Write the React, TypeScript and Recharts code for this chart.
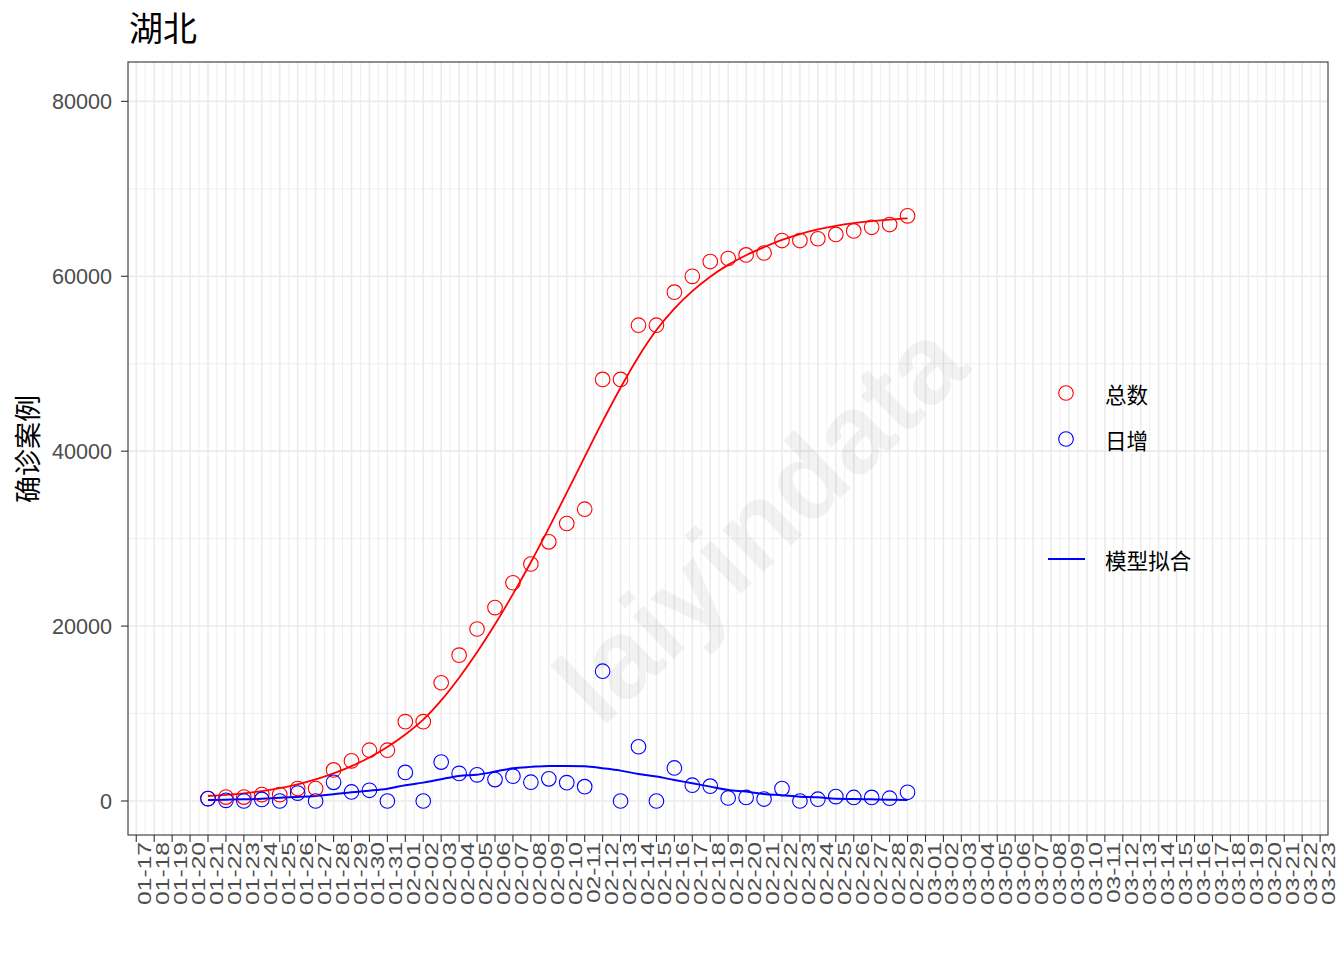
import React from 'react';
import {
  CartesianGrid,
  ComposedChart,
  Line,
  Scatter,
  XAxis,
  YAxis,
} from 'recharts';

const dayLabels = [
  '01-17', '01-18', '01-19', '01-20', '01-21', '01-22', '01-23', '01-24', '01-25',
  '01-26', '01-27', '01-28', '01-29', '01-30', '01-31', '02-01', '02-02', '02-03',
  '02-04', '02-05', '02-06', '02-07', '02-08', '02-09', '02-10', '02-11', '02-12',
  '02-13', '02-14', '02-15', '02-16', '02-17', '02-18', '02-19', '02-20', '02-21',
  '02-22', '02-23', '02-24', '02-25', '02-26', '02-27', '02-28', '02-29', '03-01',
  '03-02', '03-03', '03-04', '03-05', '03-06', '03-07', '03-08', '03-09', '03-10',
  '03-11', '03-12', '03-13', '03-14', '03-15', '03-16', '03-17', '03-18', '03-19',
  '03-20', '03-21', '03-22', '03-23',
];

const firstDay = '01-21';

// 总数 (cumulative confirmed)
const total = [
  270, 444, 444, 729, 729, 1423, 1423, 3554, 4586, 5806, 5806, 9074, 9074, 13522,
  16678, 19665, 22112, 24953, 27100, 29631, 31728, 33366, 48206, 48206, 54406,
  54406, 58182, 59989, 61682, 62031, 62442, 62662, 64084, 64084, 64287, 64786,
  65187, 65596, 65914, 66907,
];

// 日增 (daily new)
const daily = [
  270, 70, 0, 180, 0, 900, 0, 2131, 1032, 1220, 0, 3268, 0, 4448, 3156, 2987, 2447,
  2841, 2147, 2531, 2097, 1638, 14840, 0, 6200, 0, 3776, 1807, 1693, 349, 411, 220,
  1422, 0, 203, 499, 401, 409, 318, 993,
];

// 模型拟合 (fitted curves)
const fitTotal = [
  570, 700, 880, 1130, 1460, 1900, 2460, 3150, 3980, 4980, 6170, 7600, 9300, 11500,
  14100, 17000, 20200, 23650, 27300, 31200, 35250, 39350, 43400, 47250, 50800, 53850,
  56300, 58300, 59950, 61300, 62400, 63330, 64150, 64820, 65350, 65760, 66070, 66300,
  66480, 66620,
];

const fitDaily = [
  115, 150, 190, 265, 380, 460, 570, 760, 1000, 1180, 1410, 1800, 2100, 2490, 2865,
  3000, 3360, 3740, 3900, 4010, 4010, 3970, 3740, 3470, 3090, 2790, 2400, 2030, 1640,
  1260, 1070, 800, 650, 490, 420, 260, 230, 190, 150, 115,
];

const yTicks = [0, 20000, 40000, 60000, 80000];
const yMinor = [10000, 30000, 50000, 70000];

const start = dayLabels.indexOf(firstDay);
const rows = total.map((t, i) => ({
  x: start + i,
  total: t,
  daily: daily[i],
  fitTotal: fitTotal[i],
  fitDaily: fitDaily[i],
}));

const xTicks = dayLabels.map((_, i) => i);
const xMinor = dayLabels.slice(1).map((_, i) => i + 0.5);

const NUM_FONT = '"Liberation Sans", Arial, sans-serif';
const CJK_FONT = '"Noto Sans CJK SC", sans-serif';

// rotated date labels, a bit stretched along the text like the original device output
const XTick = ({ x, y, payload }: any) => (
  <text
    x={0}
    y={0}
    dy={17.5}
    transform={`translate(${x}, ${y}) rotate(-90) scale(1.14, 0.86)`}
    textAnchor="end"
    fill="#4d4d4d"
    fontSize={21.6}
    fontFamily={NUM_FONT}
  >
    {dayLabels[payload.value]}
  </text>
);

const ring = (color: string) => (props: any) => (
  <circle cx={props.cx} cy={props.cy} r={7.3} fill="none" stroke={color} strokeWidth={1.1} />
);

function App() {
  return (
    <div style={{ position: 'absolute', left: 0, top: 0, background: '#fff' }}>
      <ComposedChart
        width={1344}
        height={960}
        data={rows}
        margin={{ top: 62, right: 16, bottom: 0, left: 0 }}
      >
        <CartesianGrid
          stroke="#ebebeb"
          strokeWidth={0.8}
          horizontalValues={yMinor}
          verticalValues={xMinor}
        />
        <CartesianGrid
          stroke="#ebebeb"
          strokeWidth={1.6}
          horizontalValues={yTicks}
          verticalValues={xTicks}
        />
        <text
          x={760}
          y={522}
          transform="rotate(-44, 760, 522)"
          textAnchor="middle"
          dominantBaseline="central"
          fontFamily={NUM_FONT}
          fontWeight="bold"
          fontSize={112}
          fill="rgba(0,0,0,0.05)"
        >
          laiyindata
        </text>
        <XAxis
          dataKey="x"
          type="number"
          domain={[-0.46, 66.44]}
          allowDataOverflow
          ticks={xTicks}
          interval={0}
          height={125}
          tickSize={7}
          tickMargin={0}
          axisLine={false}
          tickLine={{ stroke: '#333', strokeWidth: 1.1 }}
          tick={<XTick />}
        />
        <YAxis
          type="number"
          domain={[-3890, 84500]}
          allowDataOverflow
          ticks={yTicks}
          width={128}
          tickSize={7}
          tickMargin={9}
          axisLine={false}
          tickLine={{ stroke: '#333', strokeWidth: 1.1 }}
          tick={{ fill: '#4d4d4d', fontSize: 21.6, fontFamily: NUM_FONT }}
        />
        <Scatter dataKey="total" shape={ring('#ff0000')} isAnimationActive={false} />
        <Scatter dataKey="daily" shape={ring('#0000ff')} isAnimationActive={false} />
        <Line
          dataKey="fitTotal"
          type="monotone"
          stroke="#ff0000"
          strokeWidth={1.8}
          dot={false}
          activeDot={false}
          isAnimationActive={false}
        />
        <Line
          dataKey="fitDaily"
          type="monotone"
          stroke="#0000ff"
          strokeWidth={2}
          dot={false}
          activeDot={false}
          isAnimationActive={false}
        />
        <rect x={128} y={62} width={1200} height={773} fill="none" stroke="#333" strokeWidth={1.1} />
        <text x={129} y={41} fontSize={34} fontFamily={CJK_FONT} fill="#000">
          湖北
        </text>
        <text
          x={26}
          y={449}
          transform="rotate(-90, 26, 449)"
          textAnchor="middle"
          dominantBaseline="central"
          fontSize={27}
          fontFamily={CJK_FONT}
          fill="#000"
        >
          确诊案例
        </text>
        <circle cx={1066} cy={393} r={7.3} fill="none" stroke="#ff0000" strokeWidth={1.1} />
        <text x={1105} y={393} dominantBaseline="central" fontSize={21.6} fontFamily={CJK_FONT} fill="#000">
          总数
        </text>
        <circle cx={1066} cy={439} r={7.3} fill="none" stroke="#0000ff" strokeWidth={1.1} />
        <text x={1105} y={439} dominantBaseline="central" fontSize={21.6} fontFamily={CJK_FONT} fill="#000">
          日增
        </text>
        <line x1={1048} y1={559} x2={1085} y2={559} stroke="#0000ff" strokeWidth={2} />
        <text x={1105} y={559} dominantBaseline="central" fontSize={21.6} fontFamily={CJK_FONT} fill="#000">
          模型拟合
        </text>
      </ComposedChart>
    </div>
  );
}

export default App;
